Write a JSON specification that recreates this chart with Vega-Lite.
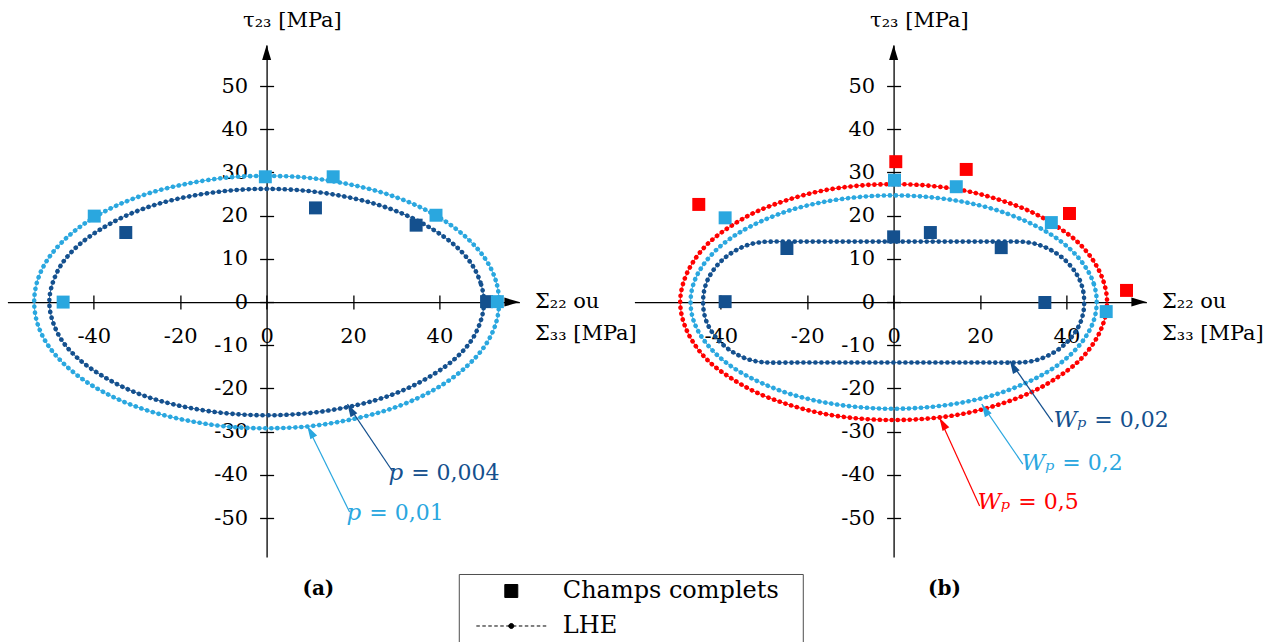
{
  "$schema": "https://vega.github.io/schema/vega-lite/v6.json",
  "background": "white",
  "padding": {"left": 7.4, "top": 9, "right": 5, "bottom": 5},
  "config": {
    "font": "DejaVu Serif",
    "view": {"stroke": null},
    "axis": {"grid": false, "domainColor": "black", "domainWidth": 1.3, "tickColor": "black", "tickWidth": 1.3, "tickSize": 7,
      "labelFont": "DejaVu Serif", "labelFontSize": 21, "labelColor": "black", "titleFont": "DejaVu Serif", "titleFontSize": 21,
      "titleFontWeight": "normal", "titleColor": "black", "labelFlush": false, "labelOverlap": false, "labelBound": false}
  },
  "datasets": {
    "tipX": [{"x": 58.5, "y": 0}],
    "tipY": [{"x": 0, "y": 59.5}],
    "curvesA": [
      {"s":"p = 0,004","i":0,"x":50.3,"y":0},{"s":"p = 0,004","i":1,"x":49.5,"y":4.5},{"s":"p = 0,004","i":2,"x":47.3,"y":9.0},{"s":"p = 0,004","i":3,"x":43.6,"y":13.1},{"s":"p = 0,004","i":4,"x":38.5,"y":16.8},{"s":"p = 0,004","i":5,"x":32.3,"y":20.1},{"s":"p = 0,004","i":6,"x":25.2,"y":22.7},{"s":"p = 0,004","i":7,"x":17.2,"y":24.6},{"s":"p = 0,004","i":8,"x":8.7,"y":25.8},{"s":"p = 0,004","i":9,"x":0,"y":26.2},
      {"s":"p = 0,004","i":10,"x":-8.7,"y":25.8},{"s":"p = 0,004","i":11,"x":-17.2,"y":24.6},{"s":"p = 0,004","i":12,"x":-25.2,"y":22.7},{"s":"p = 0,004","i":13,"x":-32.3,"y":20.1},{"s":"p = 0,004","i":14,"x":-38.5,"y":16.8},{"s":"p = 0,004","i":15,"x":-43.6,"y":13.1},{"s":"p = 0,004","i":16,"x":-47.3,"y":9.0},{"s":"p = 0,004","i":17,"x":-49.5,"y":4.5},{"s":"p = 0,004","i":18,"x":-50.3,"y":0},
      {"s":"p = 0,004","i":19,"x":-49.5,"y":-4.5},{"s":"p = 0,004","i":20,"x":-47.3,"y":-9.0},{"s":"p = 0,004","i":21,"x":-43.6,"y":-13.1},{"s":"p = 0,004","i":22,"x":-38.5,"y":-16.8},{"s":"p = 0,004","i":23,"x":-32.3,"y":-20.1},{"s":"p = 0,004","i":24,"x":-25.2,"y":-22.7},{"s":"p = 0,004","i":25,"x":-17.2,"y":-24.6},{"s":"p = 0,004","i":26,"x":-8.7,"y":-25.8},{"s":"p = 0,004","i":27,"x":0,"y":-26.2},
      {"s":"p = 0,004","i":28,"x":8.7,"y":-25.8},{"s":"p = 0,004","i":29,"x":17.2,"y":-24.6},{"s":"p = 0,004","i":30,"x":25.2,"y":-22.7},{"s":"p = 0,004","i":31,"x":32.3,"y":-20.1},{"s":"p = 0,004","i":32,"x":38.5,"y":-16.8},{"s":"p = 0,004","i":33,"x":43.6,"y":-13.1},{"s":"p = 0,004","i":34,"x":47.3,"y":-9.0},{"s":"p = 0,004","i":35,"x":49.5,"y":-4.5},
      {"s":"p = 0,01","i":0,"x":53.8,"y":0},{"s":"p = 0,01","i":1,"x":53.0,"y":5.1},{"s":"p = 0,01","i":2,"x":50.6,"y":10.0},{"s":"p = 0,01","i":3,"x":46.6,"y":14.6},{"s":"p = 0,01","i":4,"x":41.2,"y":18.8},{"s":"p = 0,01","i":5,"x":34.6,"y":22.4},{"s":"p = 0,01","i":6,"x":26.9,"y":25.3},{"s":"p = 0,01","i":7,"x":18.4,"y":27.4},{"s":"p = 0,01","i":8,"x":9.3,"y":28.8},{"s":"p = 0,01","i":9,"x":0,"y":29.2},
      {"s":"p = 0,01","i":10,"x":-9.3,"y":28.8},{"s":"p = 0,01","i":11,"x":-18.4,"y":27.4},{"s":"p = 0,01","i":12,"x":-26.9,"y":25.3},{"s":"p = 0,01","i":13,"x":-34.6,"y":22.4},{"s":"p = 0,01","i":14,"x":-41.2,"y":18.8},{"s":"p = 0,01","i":15,"x":-46.6,"y":14.6},{"s":"p = 0,01","i":16,"x":-50.6,"y":10.0},{"s":"p = 0,01","i":17,"x":-53.0,"y":5.1},{"s":"p = 0,01","i":18,"x":-53.8,"y":0},
      {"s":"p = 0,01","i":19,"x":-53.0,"y":-5.1},{"s":"p = 0,01","i":20,"x":-50.6,"y":-10.0},{"s":"p = 0,01","i":21,"x":-46.6,"y":-14.6},{"s":"p = 0,01","i":22,"x":-41.2,"y":-18.8},{"s":"p = 0,01","i":23,"x":-34.6,"y":-22.4},{"s":"p = 0,01","i":24,"x":-26.9,"y":-25.3},{"s":"p = 0,01","i":25,"x":-18.4,"y":-27.4},{"s":"p = 0,01","i":26,"x":-9.3,"y":-28.8},{"s":"p = 0,01","i":27,"x":0,"y":-29.2},
      {"s":"p = 0,01","i":28,"x":9.3,"y":-28.8},{"s":"p = 0,01","i":29,"x":18.4,"y":-27.4},{"s":"p = 0,01","i":30,"x":26.9,"y":-25.3},{"s":"p = 0,01","i":31,"x":34.6,"y":-22.4},{"s":"p = 0,01","i":32,"x":41.2,"y":-18.8},{"s":"p = 0,01","i":33,"x":46.6,"y":-14.6},{"s":"p = 0,01","i":34,"x":50.6,"y":-10.0},{"s":"p = 0,01","i":35,"x":53.0,"y":-5.1}
    ],
    "curvesB": [
      {"s":"Wp = 0,5","i":0,"x":49.4,"y":0},{"s":"Wp = 0,5","i":1,"x":48.6,"y":4.7},{"s":"Wp = 0,5","i":2,"x":46.4,"y":9.3},{"s":"Wp = 0,5","i":3,"x":42.8,"y":13.7},{"s":"Wp = 0,5","i":4,"x":37.8,"y":17.5},{"s":"Wp = 0,5","i":5,"x":31.8,"y":20.9},{"s":"Wp = 0,5","i":6,"x":24.7,"y":23.6},{"s":"Wp = 0,5","i":7,"x":16.9,"y":25.7},{"s":"Wp = 0,5","i":8,"x":8.6,"y":26.9},{"s":"Wp = 0,5","i":9,"x":0,"y":27.3},
      {"s":"Wp = 0,5","i":10,"x":-8.6,"y":26.9},{"s":"Wp = 0,5","i":11,"x":-16.9,"y":25.7},{"s":"Wp = 0,5","i":12,"x":-24.7,"y":23.6},{"s":"Wp = 0,5","i":13,"x":-31.8,"y":20.9},{"s":"Wp = 0,5","i":14,"x":-37.8,"y":17.5},{"s":"Wp = 0,5","i":15,"x":-42.8,"y":13.7},{"s":"Wp = 0,5","i":16,"x":-46.4,"y":9.3},{"s":"Wp = 0,5","i":17,"x":-48.6,"y":4.7},{"s":"Wp = 0,5","i":18,"x":-49.4,"y":0},
      {"s":"Wp = 0,5","i":19,"x":-48.6,"y":-4.7},{"s":"Wp = 0,5","i":20,"x":-46.4,"y":-9.3},{"s":"Wp = 0,5","i":21,"x":-42.8,"y":-13.7},{"s":"Wp = 0,5","i":22,"x":-37.8,"y":-17.5},{"s":"Wp = 0,5","i":23,"x":-31.8,"y":-20.9},{"s":"Wp = 0,5","i":24,"x":-24.7,"y":-23.6},{"s":"Wp = 0,5","i":25,"x":-16.9,"y":-25.7},{"s":"Wp = 0,5","i":26,"x":-8.6,"y":-26.9},{"s":"Wp = 0,5","i":27,"x":0,"y":-27.3},
      {"s":"Wp = 0,5","i":28,"x":8.6,"y":-26.9},{"s":"Wp = 0,5","i":29,"x":16.9,"y":-25.7},{"s":"Wp = 0,5","i":30,"x":24.7,"y":-23.6},{"s":"Wp = 0,5","i":31,"x":31.8,"y":-20.9},{"s":"Wp = 0,5","i":32,"x":37.8,"y":-17.5},{"s":"Wp = 0,5","i":33,"x":42.8,"y":-13.7},{"s":"Wp = 0,5","i":34,"x":46.4,"y":-9.3},{"s":"Wp = 0,5","i":35,"x":48.6,"y":-4.7},
      {"s":"Wp = 0,2","i":0,"x":47.0,"y":0},{"s":"Wp = 0,2","i":1,"x":46.3,"y":4.3},{"s":"Wp = 0,2","i":2,"x":44.2,"y":8.4},{"s":"Wp = 0,2","i":3,"x":40.7,"y":12.4},{"s":"Wp = 0,2","i":4,"x":36.0,"y":15.9},{"s":"Wp = 0,2","i":5,"x":30.2,"y":18.9},{"s":"Wp = 0,2","i":6,"x":23.5,"y":21.4},{"s":"Wp = 0,2","i":7,"x":16.1,"y":23.2},{"s":"Wp = 0,2","i":8,"x":8.2,"y":24.3},{"s":"Wp = 0,2","i":9,"x":0,"y":24.7},
      {"s":"Wp = 0,2","i":10,"x":-8.2,"y":24.3},{"s":"Wp = 0,2","i":11,"x":-16.1,"y":23.2},{"s":"Wp = 0,2","i":12,"x":-23.5,"y":21.4},{"s":"Wp = 0,2","i":13,"x":-30.2,"y":18.9},{"s":"Wp = 0,2","i":14,"x":-36.0,"y":15.9},{"s":"Wp = 0,2","i":15,"x":-40.7,"y":12.4},{"s":"Wp = 0,2","i":16,"x":-44.2,"y":8.4},{"s":"Wp = 0,2","i":17,"x":-46.3,"y":4.3},{"s":"Wp = 0,2","i":18,"x":-47.0,"y":0},
      {"s":"Wp = 0,2","i":19,"x":-46.3,"y":-4.3},{"s":"Wp = 0,2","i":20,"x":-44.2,"y":-8.4},{"s":"Wp = 0,2","i":21,"x":-40.7,"y":-12.4},{"s":"Wp = 0,2","i":22,"x":-36.0,"y":-15.9},{"s":"Wp = 0,2","i":23,"x":-30.2,"y":-18.9},{"s":"Wp = 0,2","i":24,"x":-23.5,"y":-21.4},{"s":"Wp = 0,2","i":25,"x":-16.1,"y":-23.2},{"s":"Wp = 0,2","i":26,"x":-8.2,"y":-24.3},{"s":"Wp = 0,2","i":27,"x":0,"y":-24.7},
      {"s":"Wp = 0,2","i":28,"x":8.2,"y":-24.3},{"s":"Wp = 0,2","i":29,"x":16.1,"y":-23.2},{"s":"Wp = 0,2","i":30,"x":23.5,"y":-21.4},{"s":"Wp = 0,2","i":31,"x":30.2,"y":-18.9},{"s":"Wp = 0,2","i":32,"x":36.0,"y":-15.9},{"s":"Wp = 0,2","i":33,"x":40.7,"y":-12.4},{"s":"Wp = 0,2","i":34,"x":44.2,"y":-8.4},{"s":"Wp = 0,2","i":35,"x":46.3,"y":-4.3},
      {"s":"Wp = 0,02","i":0,"x":44.1,"y":0},{"s":"Wp = 0,02","i":1,"x":43.9,"y":2.4},{"s":"Wp = 0,02","i":2,"x":43.2,"y":4.8},{"s":"Wp = 0,02","i":3,"x":42.0,"y":7.0},{"s":"Wp = 0,02","i":4,"x":40.4,"y":9.0},{"s":"Wp = 0,02","i":5,"x":38.5,"y":10.7},{"s":"Wp = 0,02","i":6,"x":36.3,"y":12.1},{"s":"Wp = 0,02","i":7,"x":33.8,"y":13.2},{"s":"Wp = 0,02","i":8,"x":31.2,"y":13.8},{"s":"Wp = 0,02","i":9,"x":28.5,"y":14.0},
      {"s":"Wp = 0,02","i":10,"x":22.8,"y":14.0},{"s":"Wp = 0,02","i":11,"x":17.1,"y":14.0},{"s":"Wp = 0,02","i":12,"x":11.4,"y":14.0},{"s":"Wp = 0,02","i":13,"x":5.7,"y":14.0},{"s":"Wp = 0,02","i":14,"x":0,"y":14.0},{"s":"Wp = 0,02","i":15,"x":-5.7,"y":14.0},{"s":"Wp = 0,02","i":16,"x":-11.4,"y":14.0},{"s":"Wp = 0,02","i":17,"x":-17.1,"y":14.0},{"s":"Wp = 0,02","i":18,"x":-22.8,"y":14.0},{"s":"Wp = 0,02","i":19,"x":-28.5,"y":14.0},
      {"s":"Wp = 0,02","i":20,"x":-31.2,"y":13.8},{"s":"Wp = 0,02","i":21,"x":-33.8,"y":13.2},{"s":"Wp = 0,02","i":22,"x":-36.3,"y":12.1},{"s":"Wp = 0,02","i":23,"x":-38.5,"y":10.7},{"s":"Wp = 0,02","i":24,"x":-40.4,"y":9.0},{"s":"Wp = 0,02","i":25,"x":-42.0,"y":7.0},{"s":"Wp = 0,02","i":26,"x":-43.2,"y":4.8},{"s":"Wp = 0,02","i":27,"x":-43.9,"y":2.4},{"s":"Wp = 0,02","i":28,"x":-44.1,"y":0},
      {"s":"Wp = 0,02","i":29,"x":-43.9,"y":-2.4},{"s":"Wp = 0,02","i":30,"x":-43.2,"y":-4.8},{"s":"Wp = 0,02","i":31,"x":-42.0,"y":-7.0},{"s":"Wp = 0,02","i":32,"x":-40.4,"y":-9.0},{"s":"Wp = 0,02","i":33,"x":-38.5,"y":-10.7},{"s":"Wp = 0,02","i":34,"x":-36.3,"y":-12.1},{"s":"Wp = 0,02","i":35,"x":-33.8,"y":-13.2},{"s":"Wp = 0,02","i":36,"x":-31.2,"y":-13.8},{"s":"Wp = 0,02","i":37,"x":-28.5,"y":-14.0},
      {"s":"Wp = 0,02","i":38,"x":-22.8,"y":-14.0},{"s":"Wp = 0,02","i":39,"x":-17.1,"y":-14.0},{"s":"Wp = 0,02","i":40,"x":-11.4,"y":-14.0},{"s":"Wp = 0,02","i":41,"x":-5.7,"y":-14.0},{"s":"Wp = 0,02","i":42,"x":0,"y":-14.0},{"s":"Wp = 0,02","i":43,"x":5.7,"y":-14.0},{"s":"Wp = 0,02","i":44,"x":11.4,"y":-14.0},{"s":"Wp = 0,02","i":45,"x":17.1,"y":-14.0},{"s":"Wp = 0,02","i":46,"x":22.8,"y":-14.0},{"s":"Wp = 0,02","i":47,"x":28.5,"y":-14.0},
      {"s":"Wp = 0,02","i":48,"x":31.2,"y":-13.8},{"s":"Wp = 0,02","i":49,"x":33.8,"y":-13.2},{"s":"Wp = 0,02","i":50,"x":36.3,"y":-12.1},{"s":"Wp = 0,02","i":51,"x":38.5,"y":-10.7},{"s":"Wp = 0,02","i":52,"x":40.4,"y":-9.0},{"s":"Wp = 0,02","i":53,"x":42.0,"y":-7.0},{"s":"Wp = 0,02","i":54,"x":43.2,"y":-4.8},{"s":"Wp = 0,02","i":55,"x":43.9,"y":-2.4}
    ],
    "squaresA": [
      {"s":"p = 0,004","type":"Champs complets","x":-32.6,"y":16.1},{"s":"p = 0,004","type":"Champs complets","x":11.3,"y":21.8},{"s":"p = 0,004","type":"Champs complets","x":34.6,"y":17.8},{"s":"p = 0,004","type":"Champs complets","x":50.9,"y":0.1},
      {"s":"p = 0,01","type":"Champs complets","x":-47.1,"y":0},{"s":"p = 0,01","type":"Champs complets","x":-39.9,"y":19.9},{"s":"p = 0,01","type":"Champs complets","x":-0.3,"y":29.0},{"s":"p = 0,01","type":"Champs complets","x":15.4,"y":29.0},{"s":"p = 0,01","type":"Champs complets","x":39.2,"y":20.1},{"s":"p = 0,01","type":"Champs complets","x":53.4,"y":0.1}
    ],
    "squaresB": [
      {"s":"Wp = 0,5","type":"Champs complets","x":-45.1,"y":22.6},{"s":"Wp = 0,5","type":"Champs complets","x":0.5,"y":32.5},{"s":"Wp = 0,5","type":"Champs complets","x":16.8,"y":30.7},{"s":"Wp = 0,5","type":"Champs complets","x":40.7,"y":20.5},{"s":"Wp = 0,5","type":"Champs complets","x":53.9,"y":2.7},
      {"s":"Wp = 0,2","type":"Champs complets","x":-39.0,"y":19.5},{"s":"Wp = 0,2","type":"Champs complets","x":0.2,"y":28.2},{"s":"Wp = 0,2","type":"Champs complets","x":14.5,"y":26.7},{"s":"Wp = 0,2","type":"Champs complets","x":36.5,"y":18.4},{"s":"Wp = 0,2","type":"Champs complets","x":49.2,"y":-2.2},
      {"s":"Wp = 0,02","type":"Champs complets","x":-39.0,"y":0.1},{"s":"Wp = 0,02","type":"Champs complets","x":-24.7,"y":12.4},{"s":"Wp = 0,02","type":"Champs complets","x":0,"y":15.1},{"s":"Wp = 0,02","type":"Champs complets","x":8.5,"y":16.1},{"s":"Wp = 0,02","type":"Champs complets","x":24.9,"y":12.6},{"s":"Wp = 0,02","type":"Champs complets","x":35.0,"y":-0.1}
    ],
    "notesA": [
      {"s":"p = 0,004","name":"p","val":"= 0,004","xs":29.1,"ys":-39.1,"xt":18.7,"yt":-23.6,"xl":31.6,"yl":-39.5},
      {"s":"p = 0,01","name":"p","val":"= 0,01","xs":19.2,"ys":-48.6,"xt":9.4,"yt":-28.7,"xl":21.9,"yl":-48.9}
    ],
    "notesB": [
      {"s":"Wp = 0,02","name":"Wₚ","val":"= 0,02","xs":36.8,"ys":-27.8,"xt":26.9,"yt":-13.6,"xl":44.6,"yl":-27.4},
      {"s":"Wp = 0,2","name":"Wₚ","val":"= 0,2","xs":29.9,"ys":-37.5,"xt":20.4,"yt":-23.6,"xl":37.2,"yl":-37.3},
      {"s":"Wp = 0,5","name":"Wₚ","val":"= 0,5","xs":19.9,"ys":-47.2,"xt":10.6,"yt":-26.8,"xl":27.0,"yl":-46.2}
    ]
  },
  "hconcat": [
    {
      "width": 512, "height": 512,
      "title": {"text": "(a)", "orient": "bottom", "frame": "group", "anchor": "middle", "dx": 55, "offset": 22, "fontSize": 20, "fontWeight": "bold", "font": "DejaVu Serif", "color": "black", "baseline": "top"},
      "resolve": {"axis": {"x": "independent", "y": "independent"}},
      "layer": [
        {"data": {"name": "tipX"}, "mark": {"type": "point", "shape": "M0,0L-1,-0.3L-1,0.3Z", "filled": true, "color": "black", "opacity": 1, "size": 900},
          "encoding": {
            "x": {"field": "x", "type": "quantitative", "scale": {"domain": [-60, 58.5], "nice": false, "zero": false},
              "axis": {"orient": "bottom", "offset": -254.9, "values": [-40, -20, 0, 20, 40], "labelExpr": "datum.value + ''", "labelPadding": 16, "title": ["Σ₂₂ ou", "Σ₃₃ [MPa]"], "titleAngle": 0, "titleAlign": "left", "titleBaseline": "alphabetic", "titleX": 527, "titleY": 5, "titleLineHeight": 32}},
            "y": {"field": "y", "type": "quantitative", "scale": {"domain": [-59, 59.5], "nice": false, "zero": false},
              "axis": {"orient": "left", "offset": -259.2, "values": [-50, -40, -30, -20, -10, 0, 10, 20, 30, 40, 50], "labelExpr": "datum.value + ''", "labelPadding": 12, "title": "τ₂₃ [MPa]", "titleAngle": 0, "titleAlign": "left", "titleBaseline": "alphabetic", "titleX": -24, "titleY": -19}}
          }},
        {"data": {"name": "tipY"}, "mark": {"type": "point", "shape": "M0,0L-1,-0.3L-1,0.3Z", "filled": true, "color": "black", "opacity": 1, "size": 900, "angle": 270},
          "encoding": {
            "x": {"field": "x", "type": "quantitative", "scale": {"domain": [-60, 58.5], "nice": false, "zero": false},
              "axis": {"orient": "top", "offset": -257.1, "values": [-40, -20, 0, 20, 40], "labels": false, "domain": false, "title": null}},
            "y": {"field": "y", "type": "quantitative", "scale": {"domain": [-59, 59.5], "nice": false, "zero": false},
              "axis": {"orient": "right", "offset": -252.8, "values": [-50, -40, -30, -20, -10, 0, 10, 20, 30, 40, 50], "labels": false, "domain": false, "title": null}}
          }},
        {"data": {"name": "curvesA"}, "mark": {"type": "line", "interpolate": "cardinal-closed", "strokeWidth": 0.9},
          "encoding": {
            "x": {"field": "x", "type": "quantitative", "axis": null, "scale": {"domain": [-60, 58.5], "nice": false, "zero": false}},
            "y": {"field": "y", "type": "quantitative", "axis": null, "scale": {"domain": [-59, 59.5], "nice": false, "zero": false}},
            "order": {"field": "i", "type": "quantitative"},
            "color": {"field": "s", "type": "nominal", "scale": {"domain": ["p = 0,004", "p = 0,01", "Wp = 0,02", "Wp = 0,2", "Wp = 0,5"], "range": ["#14508e", "#2aa7df", "#14508e", "#2aa7df", "#ff0000"]}, "legend": null}
          }},
        {"data": {"name": "curvesA"}, "mark": {"type": "line", "interpolate": "cardinal-closed", "strokeWidth": 4.6, "strokeCap": "round", "strokeDash": [0.1, 5.9]},
          "encoding": {
            "x": {"field": "x", "type": "quantitative", "axis": null, "scale": {"domain": [-60, 58.5], "nice": false, "zero": false}},
            "y": {"field": "y", "type": "quantitative", "axis": null, "scale": {"domain": [-59, 59.5], "nice": false, "zero": false}},
            "order": {"field": "i", "type": "quantitative"},
            "color": {"field": "s", "type": "nominal", "legend": null}
          }},
        {"data": {"name": "squaresA"}, "mark": {"type": "point", "filled": true, "opacity": 1, "size": 8464, "strokeWidth": 0},
          "encoding": {
            "x": {"field": "x", "type": "quantitative", "axis": null, "scale": {"domain": [-60, 58.5], "nice": false, "zero": false}},
            "y": {"field": "y", "type": "quantitative", "axis": null, "scale": {"domain": [-59, 59.5], "nice": false, "zero": false}},
            "color": {"field": "s", "type": "nominal", "legend": null},
            "shape": {"field": "type", "type": "nominal",
              "scale": {"domain": ["Champs complets", "LHE"], "range": ["M-0.141,-0.141H0.141V0.141H-0.141Z", "M-0.76,0H-0.684M-0.63,0H-0.554M-0.5,0H-0.424M-0.37,0H-0.294M-0.24,0H-0.164M-0.11,0H0.11M0.164,0H0.24M0.294,0H0.37M0.424,0H0.5M0.554,0H0.63M0.684,0H0.76M-0.055,0A0.055,0.055,0,1,0,0.055,0A0.055,0.055,0,1,0,-0.055,0Z"]},
              "legend": {"orient": "none", "legendX": 451.4, "legendY": 529, "title": null, "direction": "vertical", "symbolSize": 8464, "symbolFillColor": "black", "symbolStrokeColor": "black", "symbolStrokeWidth": 1, "symbolOffset": 0, "labelOffset": 5, "labelFont": "DejaVu Serif", "labelFontSize": 24, "labelColor": "black", "labelLimit": 0, "labelExpr": "datum.label + '\u2800'", "clipHeight": 22, "rowPadding": 11, "padding": 6, "strokeColor": "#4d4d4d", "fillColor": "white",
                "encode": {"symbols": {"update": {"fill": {"value": "black"}, "stroke": {"value": "black"}, "strokeWidth": {"value": 1}, "opacity": {"value": 1}}}}}}
          }},
        {"data": {"name": "notesA"}, "mark": {"type": "rule", "strokeWidth": 1.2},
          "encoding": {
            "x": {"field": "xs", "type": "quantitative", "axis": null, "scale": {"domain": [-60, 58.5], "nice": false, "zero": false}},
            "y": {"field": "ys", "type": "quantitative", "axis": null, "scale": {"domain": [-59, 59.5], "nice": false, "zero": false}},
            "x2": {"field": "xt"}, "y2": {"field": "yt"},
            "color": {"field": "s", "type": "nominal", "legend": null}
          }},
        {"data": {"name": "notesA"}, "mark": {"type": "point", "shape": "M0,0L-0.3,1L0.3,1Z", "filled": true, "opacity": 1, "size": 676, "angle": 330},
          "encoding": {
            "x": {"field": "xt", "type": "quantitative", "axis": null, "scale": {"domain": [-60, 58.5], "nice": false, "zero": false}},
            "y": {"field": "yt", "type": "quantitative", "axis": null, "scale": {"domain": [-59, 59.5], "nice": false, "zero": false}},
            "color": {"field": "s", "type": "nominal", "legend": null}
          }},
        {"data": {"name": "notesA"}, "mark": {"type": "text", "align": "right", "baseline": "middle", "fontStyle": "italic", "fontSize": 23, "font": "DejaVu Serif"},
          "encoding": {
            "x": {"field": "xl", "type": "quantitative", "axis": null, "scale": {"domain": [-60, 58.5], "nice": false, "zero": false}},
            "y": {"field": "yl", "type": "quantitative", "axis": null, "scale": {"domain": [-59, 59.5], "nice": false, "zero": false}},
            "text": {"field": "name"},
            "color": {"field": "s", "type": "nominal", "legend": null}
          }},
        {"data": {"name": "notesA"}, "mark": {"type": "text", "align": "left", "baseline": "middle", "fontSize": 22, "font": "DejaVu Serif", "dx": 8},
          "encoding": {
            "x": {"field": "xl", "type": "quantitative", "axis": null, "scale": {"domain": [-60, 58.5], "nice": false, "zero": false}},
            "y": {"field": "yl", "type": "quantitative", "axis": null, "scale": {"domain": [-59, 59.5], "nice": false, "zero": false}},
            "text": {"field": "val"},
            "color": {"field": "s", "type": "nominal", "legend": null}
          }}
      ]
    },
    {
      "width": 512, "height": 512,
      "title": {"text": "(b)", "orient": "bottom", "frame": "group", "anchor": "middle", "dx": 54, "offset": 22, "fontSize": 20, "fontWeight": "bold", "font": "DejaVu Serif", "color": "black", "baseline": "top"},
      "resolve": {"axis": {"x": "independent", "y": "independent"}},
      "layer": [
        {"data": {"name": "tipX"}, "mark": {"type": "point", "shape": "M0,0L-1,-0.3L-1,0.3Z", "filled": true, "color": "black", "opacity": 1, "size": 900},
          "encoding": {
            "x": {"field": "x", "type": "quantitative", "scale": {"domain": [-60, 58.5], "nice": false, "zero": false},
              "axis": {"orient": "bottom", "offset": -254.9, "values": [-40, -20, 0, 20, 40], "labelExpr": "datum.value + ''", "labelPadding": 16, "title": ["Σ₂₂ ou", "Σ₃₃ [MPa]"], "titleAngle": 0, "titleAlign": "left", "titleBaseline": "alphabetic", "titleX": 527, "titleY": 5, "titleLineHeight": 32}},
            "y": {"field": "y", "type": "quantitative", "scale": {"domain": [-59, 59.5], "nice": false, "zero": false},
              "axis": {"orient": "left", "offset": -259.2, "values": [-50, -40, -30, -20, -10, 0, 10, 20, 30, 40, 50], "labelExpr": "datum.value + ''", "labelPadding": 12, "title": "τ₂₃ [MPa]", "titleAngle": 0, "titleAlign": "left", "titleBaseline": "alphabetic", "titleX": -24, "titleY": -19}}
          }},
        {"data": {"name": "tipY"}, "mark": {"type": "point", "shape": "M0,0L-1,-0.3L-1,0.3Z", "filled": true, "color": "black", "opacity": 1, "size": 900, "angle": 270},
          "encoding": {
            "x": {"field": "x", "type": "quantitative", "scale": {"domain": [-60, 58.5], "nice": false, "zero": false},
              "axis": {"orient": "top", "offset": -257.1, "values": [-40, -20, 0, 20, 40], "labels": false, "domain": false, "title": null}},
            "y": {"field": "y", "type": "quantitative", "scale": {"domain": [-59, 59.5], "nice": false, "zero": false},
              "axis": {"orient": "right", "offset": -252.8, "values": [-50, -40, -30, -20, -10, 0, 10, 20, 30, 40, 50], "labels": false, "domain": false, "title": null}}
          }},
        {"data": {"name": "curvesB"}, "mark": {"type": "line", "interpolate": "cardinal-closed", "strokeWidth": 0.9},
          "encoding": {
            "x": {"field": "x", "type": "quantitative", "axis": null, "scale": {"domain": [-60, 58.5], "nice": false, "zero": false}},
            "y": {"field": "y", "type": "quantitative", "axis": null, "scale": {"domain": [-59, 59.5], "nice": false, "zero": false}},
            "order": {"field": "i", "type": "quantitative"},
            "color": {"field": "s", "type": "nominal", "scale": {"domain": ["p = 0,004", "p = 0,01", "Wp = 0,02", "Wp = 0,2", "Wp = 0,5"], "range": ["#14508e", "#2aa7df", "#14508e", "#2aa7df", "#ff0000"]}, "legend": null}
          }},
        {"data": {"name": "curvesB"}, "mark": {"type": "line", "interpolate": "cardinal-closed", "strokeWidth": 4.6, "strokeCap": "round", "strokeDash": [0.1, 5.9]},
          "encoding": {
            "x": {"field": "x", "type": "quantitative", "axis": null, "scale": {"domain": [-60, 58.5], "nice": false, "zero": false}},
            "y": {"field": "y", "type": "quantitative", "axis": null, "scale": {"domain": [-59, 59.5], "nice": false, "zero": false}},
            "order": {"field": "i", "type": "quantitative"},
            "color": {"field": "s", "type": "nominal", "legend": null}
          }},
        {"data": {"name": "squaresB"}, "mark": {"type": "point", "filled": true, "opacity": 1, "size": 8464, "strokeWidth": 0},
          "encoding": {
            "x": {"field": "x", "type": "quantitative", "axis": null, "scale": {"domain": [-60, 58.5], "nice": false, "zero": false}},
            "y": {"field": "y", "type": "quantitative", "axis": null, "scale": {"domain": [-59, 59.5], "nice": false, "zero": false}},
            "color": {"field": "s", "type": "nominal", "legend": null},
            "shape": {"field": "type", "type": "nominal",
              "scale": {"domain": ["Champs complets", "LHE"], "range": ["M-0.141,-0.141H0.141V0.141H-0.141Z", "M-0.76,0H-0.684M-0.63,0H-0.554M-0.5,0H-0.424M-0.37,0H-0.294M-0.24,0H-0.164M-0.11,0H0.11M0.164,0H0.24M0.294,0H0.37M0.424,0H0.5M0.554,0H0.63M0.684,0H0.76M-0.055,0A0.055,0.055,0,1,0,0.055,0A0.055,0.055,0,1,0,-0.055,0Z"]},
              "legend": {"orient": "none", "legendX": 451.4, "legendY": 529, "title": null, "direction": "vertical", "symbolSize": 8464, "symbolFillColor": "black", "symbolStrokeColor": "black", "symbolStrokeWidth": 1, "symbolOffset": 0, "labelOffset": 5, "labelFont": "DejaVu Serif", "labelFontSize": 24, "labelColor": "black", "labelLimit": 0, "labelExpr": "datum.label + '\u2800'", "clipHeight": 22, "rowPadding": 11, "padding": 6, "strokeColor": "#4d4d4d", "fillColor": "white",
                "encode": {"symbols": {"update": {"fill": {"value": "black"}, "stroke": {"value": "black"}, "strokeWidth": {"value": 1}, "opacity": {"value": 1}}}}}}
          }},
        {"data": {"name": "notesB"}, "mark": {"type": "rule", "strokeWidth": 1.2},
          "encoding": {
            "x": {"field": "xs", "type": "quantitative", "axis": null, "scale": {"domain": [-60, 58.5], "nice": false, "zero": false}},
            "y": {"field": "ys", "type": "quantitative", "axis": null, "scale": {"domain": [-59, 59.5], "nice": false, "zero": false}},
            "x2": {"field": "xt"}, "y2": {"field": "yt"},
            "color": {"field": "s", "type": "nominal", "legend": null}
          }},
        {"data": {"name": "notesB"}, "mark": {"type": "point", "shape": "M0,0L-0.3,1L0.3,1Z", "filled": true, "opacity": 1, "size": 676, "angle": 330},
          "encoding": {
            "x": {"field": "xt", "type": "quantitative", "axis": null, "scale": {"domain": [-60, 58.5], "nice": false, "zero": false}},
            "y": {"field": "yt", "type": "quantitative", "axis": null, "scale": {"domain": [-59, 59.5], "nice": false, "zero": false}},
            "color": {"field": "s", "type": "nominal", "legend": null}
          }},
        {"data": {"name": "notesB"}, "mark": {"type": "text", "align": "right", "baseline": "middle", "fontStyle": "italic", "fontSize": 23, "font": "DejaVu Serif"},
          "encoding": {
            "x": {"field": "xl", "type": "quantitative", "axis": null, "scale": {"domain": [-60, 58.5], "nice": false, "zero": false}},
            "y": {"field": "yl", "type": "quantitative", "axis": null, "scale": {"domain": [-59, 59.5], "nice": false, "zero": false}},
            "text": {"field": "name"},
            "color": {"field": "s", "type": "nominal", "legend": null}
          }},
        {"data": {"name": "notesB"}, "mark": {"type": "text", "align": "left", "baseline": "middle", "fontSize": 22, "font": "DejaVu Serif", "dx": 8},
          "encoding": {
            "x": {"field": "xl", "type": "quantitative", "axis": null, "scale": {"domain": [-60, 58.5], "nice": false, "zero": false}},
            "y": {"field": "yl", "type": "quantitative", "axis": null, "scale": {"domain": [-59, 59.5], "nice": false, "zero": false}},
            "text": {"field": "val"},
            "color": {"field": "s", "type": "nominal", "legend": null}
          }}
      ]
    }
  ],
  "spacing": 115,
  "bounds": "flush",
  "resolve": {"scale": {"color": "shared", "shape": "shared"}, "legend": {"shape": "shared", "color": "shared"}}
}
